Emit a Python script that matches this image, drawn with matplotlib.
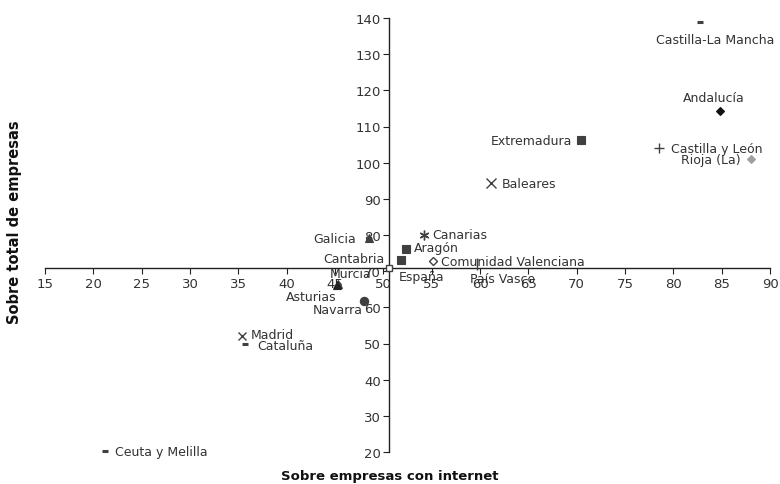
import matplotlib
matplotlib.use("Agg")
import matplotlib.pyplot as plt

# ---- data ----
regions = ["Castilla-La Mancha", "Andalucía", "Extremadura", "Castilla y León",
           "Rioja (La)", "Baleares", "Canarias", "Galicia", "Aragón", "Cantabria",
           "Comunidad Valenciana", "País Vasco", "España", "Murcia", "Asturias",
           "Navarra", "Madrid", "Cataluña", "Ceuta y Melilla"]
x_internet = [82.8, 84.8, 70.4, 78.5, 88.0, 61.1, 54.2, 48.5, 52.3, 51.8,
              55.1, 59.7, 50.6, 45.3, 45.2, 48.0, 35.4, 35.7, 21.2]
y_total = [138.8, 114.2, 106.2, 104.0, 101.0, 94.3, 80.0, 79.1, 76.1, 73.0,
           72.8, 71.9, 70.8, 66.4, 66.1, 61.7, 52.0, 49.8, 20.2]
x_ticks = [15, 20, 25, 30, 35, 40, 45, 50, 55, 60, 65, 70, 75, 80, 85, 90]
y_ticks = [20, 30, 40, 50, 60, 70, 80, 90, 100, 110, 120, 130, 140]
x_title = "Sobre empresas con internet"
y_title = "Sobre total de empresas"

# ---- styles ----
DK = "#404040"
styles = {
    "Castilla-La Mancha": dict(marker="_", color=DK, ms=5, mew=2.2),
    "Andalucía": dict(marker="D", color="#111111", ms=4),
    "Extremadura": dict(marker="s", color=DK, ms=5.5),
    "Castilla y León": dict(marker="+", color=DK, ms=7, mew=1),
    "Rioja (La)": dict(marker="D", color="#a0a0a0", ms=4),
    "Baleares": dict(marker="x", color=DK, ms=6.5, mew=1),
    "Canarias": dict(marker=(6, 2, 0), color=DK, ms=7, mew=1),
    "Galicia": dict(marker="^", color=DK, ms=6),
    "Aragón": dict(marker="s", color=DK, ms=5.5),
    "Cantabria": dict(marker="s", color=DK, ms=5.5),
    "Comunidad Valenciana": dict(marker="D", color=DK, ms=4.5, mfc="white", mew=1),
    "País Vasco": dict(marker="|", color=DK, ms=8, mew=1),
    "España": dict(marker="s", color=DK, ms=5, mfc="white", mew=1),
    "Murcia": dict(marker="^", color=DK, ms=6),
    "Asturias": dict(marker="^", color="#222222", ms=5.5),
    "Navarra": dict(marker="o", color=DK, ms=6),
    "Madrid": dict(marker="x", color=DK, ms=6, mew=1),
    "Cataluña": dict(marker="_", color=DK, ms=5, mew=2.2),
    "Ceuta y Melilla": dict(marker="_", color=DK, ms=5, mew=2.2),
}
# label offsets in points (dx, dy), ha
label_pos = {
    "Castilla-La Mancha": (11, -12, "center"),
    "Andalucía": (-4, 10, "center"),
    "Extremadura": (-6, 0, "right"),
    "Castilla y León": (9, 0, "left"),
    "Rioja (La)": (-7, 0, "right"),
    "Baleares": (8, 0, "left"),
    "Canarias": (6, 0, "left"),
    "Galicia": (-9, 0, "right"),
    "Aragón": (6, 1, "left"),
    "Cantabria": (-12, 1, "right"),
    "Comunidad Valenciana": (6, 0, "left"),
    "País Vasco": (-5, -10, "left"),
    "España": (7, -6, "left"),
    "Murcia": (9, 8, "center"),
    "Asturias": (0, -8, "right"),
    "Navarra": (-1, -6, "right"),
    "Madrid": (6, 1, "left"),
    "Cataluña": (9, -1, "left"),
    "Ceuta y Melilla": (7, 0, "left"),
}

plt.rcParams["font.family"] = ["DejaVu Sans"]
TXT = "#333333"

fig = plt.figure(figsize=(7.8, 4.85), dpi=100)
ax = fig.add_axes([45 / 780, 1 - 453 / 485, 725 / 780, 434 / 485])
ax.set_xlim(15, 90)
ax.set_ylim(20, 140)

cross_x = x_internet[regions.index("España")]
cross_y = y_total[regions.index("España")]

for name, xv, yv in zip(regions, x_internet, y_total):
    st = dict(styles[name])
    mfc = st.pop("mfc", st["color"])
    ax.plot([xv], [yv], linestyle="none", marker=st["marker"], color=st["color"],
            markersize=st["ms"], markeredgewidth=st.get("mew", 0.8),
            markerfacecolor=mfc, markeredgecolor=st["color"], zorder=4, clip_on=False)
    dx, dy, ha = label_pos[name]
    ax.annotate(name, (xv, yv), xytext=(dx, dy), textcoords="offset points",
                ha=ha, va="center", fontsize=9, color=TXT, zorder=5)

for s in ["top", "right"]:
    ax.spines[s].set_visible(False)
ax.spines["left"].set_position(("data", cross_x))
ax.spines["bottom"].set_position(("data", cross_y))
for s in ["left", "bottom"]:
    ax.spines[s].set_color("#222222")
    ax.spines[s].set_linewidth(1.0)

ax.set_xticks(x_ticks)
ax.set_yticks(y_ticks)
ax.tick_params(axis="both", direction="out", length=4, width=0.8, colors="#222222",
               labelsize=9.5, labelcolor=TXT, pad=2)

fig.text(390 / 780, 1 - 477 / 485, x_title, ha="center", va="center",
         fontsize=9.5, fontweight="bold", color="#111111")
fig.text(15 / 780, 1 - 222 / 485, y_title, ha="center", va="center",
         rotation=90, fontsize=10.5, fontweight="bold", color="#111111")

fig.savefig("out.png", dpi=100)
